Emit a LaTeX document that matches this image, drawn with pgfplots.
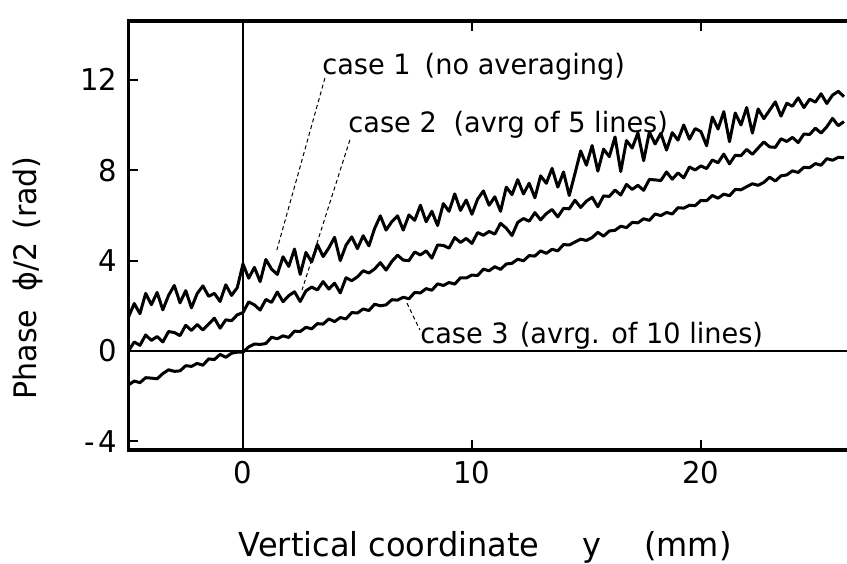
\documentclass[border=0pt]{standalone}
\usepackage{fontspec}
\setmainfont{DejaVu Sans}[FakeStretch=0.97]
\usepackage{pgfplots}
\pgfplotsset{compat=1.18}
\begin{document}
\begin{tikzpicture}
\begin{axis}[
  scale only axis, width=361.75bp, height=214.5bp,
  xmin=-5, xmax=26.6, ymin=-4.38, ymax=14.6,
  clip=false,
  xtick={0,10,20}, xticklabels={0,10,20},
  ytick={-4,0,4,8,12}, yticklabels={-\kern2bp 4,0,4,8,12},
  tick align=inside, xtick pos=both, ytick pos=left,
  major tick length=5bp,
  tick style={line width=1bp, black},
  axis line style={line width=1.7bp},
  /pgf/number format/assume math mode=true,
  ticklabel style={font=\fontsize{15bp}{18bp}\selectfont},
  yticklabel style={xshift=-2bp},
  xticklabel style={yshift=-2bp},
  xlabel={Vertical coordinate\hspace{1.3em}y\hspace{1.3em}(mm)},
  ylabel={Phase\hspace{0.6em}ϕ/2\hspace{0.4em}(rad)},
  xlabel style={font=\fontsize{16.5bp}{19bp}\selectfont, at={(axis description cs:0.493,-0.228)}, anchor=center},
  ylabel style={font=\fontsize{15.5bp}{19bp}\selectfont, at={(axis description cs:-0.139,0.401)}, anchor=center, rotate=0},
]
\coordinate (SW) at (rel axis cs:0,0);
% zero lines
\draw[line width=1.1bp] (axis cs:0,-4.38) -- (axis cs:0,14.6);
\draw[line width=1.1bp] (axis cs:-5,0) -- (axis cs:26.6,0);
% right-side ticks
\draw[line width=1bp] (axis cs:26.6,12) -- ++(-5bp,0);
\draw[line width=1bp] (axis cs:26.6,-4) -- ++(-5bp,0);

% case 1
\addplot[black, line width=1.5bp, line join=round, mark=none] coordinates {
(-5,1.50)(-4.75,2.10)(-4.5,1.65)(-4.25,2.55)(-4,2.05)(-3.75,2.59)(-3.5,1.82)(-3.25,2.46)(-3,2.90)(-2.75,2.13)
(-2.5,2.67)(-2.25,1.91)(-2,2.54)(-1.75,2.88)(-1.5,2.42)(-1.25,2.55)(-1,2.19)(-0.75,2.93)(-0.5,2.46)(-0.25,2.80)
(0,3.85)(0.25,3.22)(0.5,3.70)(0.75,3.07)(1,4.05)(1.25,3.62)(1.5,3.39)(1.75,4.17)(2,3.74)(2.25,4.51)
(2.5,3.39)(2.75,4.36)(3,3.94)(3.25,4.71)(3.5,4.18)(3.75,4.56)(4,5.03)(4.25,4.00)(4.5,4.68)(4.75,5.05)
(5,4.53)(5.25,5.10)(5.5,4.65)(5.75,5.42)(6,5.98)(6.25,5.35)(6.5,5.72)(6.75,5.98)(7,5.35)(7.25,6.02)
(7.5,5.78)(7.75,6.45)(8,5.72)(8.25,6.18)(8.5,5.55)(8.75,6.52)(9,6.18)(9.25,6.95)(9.5,6.22)(9.75,6.68)
(10,6.05)(10.25,6.72)(10.5,7.08)(10.75,6.45)(11,6.82)(11.25,6.18)(11.5,7.25)(11.75,6.92)(12,7.58)(12.25,6.95)
(12.5,7.42)(12.75,6.78)(13,7.75)(13.25,7.42)(13.5,8.08)(13.75,7.25)(14,7.92)(14.25,6.88)(14.5,7.85)(14.75,8.85)
(15,8.22)(15.25,9.09)(15.5,7.96)(15.75,8.93)(16,8.60)(16.25,9.47)(16.5,7.94)(16.75,9.31)(17,8.98)(17.25,9.65)
(17.5,8.42)(17.75,9.69)(18,9.16)(18.25,9.63)(18.5,8.89)(18.75,9.66)(19,9.33)(19.25,10.00)(19.5,9.37)(19.75,9.84)
(20,9.71)(20.25,9.08)(20.5,10.35)(20.75,9.82)(21,10.59)(21.25,9.26)(21.5,10.53)(21.75,10.00)(22,10.77)(22.25,9.64)
(22.5,10.71)(22.75,10.28)(23,10.65)(23.25,11.02)(23.5,10.39)(23.75,10.96)(24,10.83)(24.25,11.20)(24.5,10.77)(24.75,11.14)
(25,11.01)(25.25,11.38)(25.5,10.95)(25.75,11.32)(26,11.49)(26.25,11.25)
};
% case 2
\addplot[black, line width=1.5bp, line join=round, mark=none] coordinates {
(-5,0.00)(-4.75,0.40)(-4.5,0.25)(-4.25,0.71)(-4,0.47)(-3.75,0.64)(-3.5,0.40)(-3.25,0.86)(-3,0.82)(-2.75,0.68)
(-2.5,1.14)(-2.25,0.91)(-2,1.17)(-1.75,0.93)(-1.5,1.19)(-1.25,1.45)(-1,1.01)(-0.75,1.38)(-0.5,1.34)(-0.25,1.60)
(0,1.70)(0.25,2.17)(0.5,2.04)(0.75,1.81)(1,2.28)(1.25,2.15)(1.5,2.61)(1.75,2.18)(2,2.45)(2.25,2.62)
(2.5,2.19)(2.75,2.66)(3,2.83)(3.25,2.70)(3.5,3.07)(3.75,2.74)(4,3.00)(4.25,2.57)(4.5,3.24)(4.75,3.11)
(5,3.28)(5.25,3.55)(5.5,3.45)(5.75,3.63)(6,3.91)(6.25,3.58)(6.5,3.96)(6.75,4.24)(7,4.02)(7.25,4.00)
(7.5,4.38)(7.75,4.25)(8,4.43)(8.25,4.11)(8.5,4.69)(8.75,4.67)(9,4.55)(9.25,5.02)(9.5,4.80)(9.75,4.98)
(10,4.76)(10.25,5.24)(10.5,5.12)(10.75,5.29)(11,5.17)(11.25,5.65)(11.5,5.43)(11.75,5.11)(12,5.69)(12.25,5.86)
(12.5,5.74)(12.75,6.12)(13,5.80)(13.25,6.08)(13.5,6.26)(13.75,5.93)(14,6.31)(14.25,6.29)(14.5,6.67)(14.75,6.35)
(15,6.63)(15.25,6.80)(15.5,6.38)(15.75,6.86)(16,6.84)(16.25,7.12)(16.5,6.90)(16.75,7.37)(17,7.15)(17.25,7.33)
(17.5,7.11)(17.75,7.59)(18,7.57)(18.25,7.54)(18.5,7.92)(18.75,7.60)(19,7.88)(19.25,7.66)(19.5,8.14)(19.75,8.01)
(20,8.19)(20.25,8.07)(20.5,8.45)(20.75,8.33)(21,8.71)(21.25,8.28)(21.5,8.66)(21.75,8.64)(22,8.92)(22.25,8.70)
(22.5,8.98)(22.75,9.25)(23,9.03)(23.25,9.01)(23.5,9.39)(23.75,9.27)(24,9.45)(24.25,9.22)(24.5,9.60)(24.75,9.58)
(25,9.86)(25.25,9.64)(25.5,9.92)(25.75,10.29)(26,9.97)(26.25,10.15)
};
% case 3
\addplot[black, line width=1.5bp, line join=round, mark=none] coordinates {
(-5,-1.50)(-4.75,-1.33)(-4.5,-1.40)(-4.25,-1.18)(-4,-1.20)(-3.75,-1.23)(-3.5,-1.00)(-3.25,-0.83)(-3,-0.90)(-2.75,-0.88)
(-2.5,-0.65)(-2.25,-0.68)(-2,-0.55)(-1.75,-0.63)(-1.5,-0.35)(-1.25,-0.38)(-1,-0.15)(-0.75,-0.28)(-0.5,-0.10)(-0.25,-0.05)
(0,-0.05)(0.25,0.18)(0.5,0.31)(0.75,0.29)(1,0.33)(1.25,0.61)(1.5,0.54)(1.75,0.67)(2,0.60)(2.25,0.88)
(2.5,0.86)(2.75,1.05)(3,0.98)(3.25,1.21)(3.5,1.19)(3.75,1.42)(4,1.30)(4.25,1.48)(4.5,1.42)(4.75,1.70)
(5,1.68)(5.25,1.86)(5.5,1.79)(5.75,2.07)(6,2.00)(6.25,2.04)(6.5,2.27)(6.75,2.25)(7,2.38)(7.25,2.31)
(7.5,2.59)(7.75,2.57)(8,2.76)(8.25,2.69)(8.5,2.97)(8.75,2.90)(9,3.03)(9.25,2.96)(9.5,3.24)(9.75,3.23)
(10,3.36)(10.25,3.34)(10.5,3.62)(10.75,3.55)(11,3.73)(11.25,3.61)(11.5,3.85)(11.75,3.88)(12,4.06)(12.25,3.99)
(12.5,4.22)(12.75,4.20)(13,4.43)(13.25,4.32)(13.5,4.50)(13.75,4.43)(14,4.71)(14.25,4.69)(14.5,4.82)(14.75,4.95)
(15,4.89)(15.25,5.02)(15.5,5.25)(15.75,5.08)(16,5.31)(16.25,5.34)(16.5,5.52)(16.75,5.46)(17,5.69)(17.25,5.67)
(17.5,5.85)(17.75,5.78)(18,6.06)(18.25,5.99)(18.5,6.13)(18.75,6.06)(19,6.34)(19.25,6.32)(19.5,6.45)(19.75,6.43)
(20,6.66)(20.25,6.65)(20.5,6.88)(20.75,6.76)(21,6.94)(21.25,6.87)(21.5,7.15)(21.75,7.13)(22,7.27)(22.25,7.40)
(22.5,7.33)(22.75,7.46)(23,7.69)(23.25,7.52)(23.5,7.75)(23.75,7.79)(24,7.97)(24.25,7.90)(24.5,8.13)(24.75,8.11)
(25,8.29)(25.25,8.22)(25.5,8.51)(25.75,8.44)(26,8.57)(26.25,8.55)
};

% leader lines
\draw[line width=0.5bp, dash pattern=on 2bp off 1.5bp] (axis cs:3.58,12.08) -- (axis cs:1.48,4.47);
\draw[line width=0.5bp, dash pattern=on 2bp off 1.5bp] (axis cs:4.67,9.34) -- (axis cs:2.58,2.70);
\draw[line width=0.5bp, dash pattern=on 2bp off 1.5bp] (axis cs:7.16,2.12) -- (axis cs:7.73,0.93);

% annotations
\node[anchor=west, inner sep=0pt, font=\fontsize{14bp}{17bp}\selectfont] at (axis cs:3.45,12.57) {case 1\hspace{0.5em}(no averaging)};
\node[anchor=west, inner sep=0pt, font=\fontsize{14bp}{17bp}\selectfont] at (axis cs:4.59,10.0) {case 2\hspace{0.6em}(avrg of 5 lines)};
\node[anchor=base west, inner sep=0pt, font=\fontsize{14bp}{17bp}\selectfont] at (axis cs:7.73,0.35) {case 3\hspace{0.4em}(avrg. of 10 lines)};
\end{axis}
\pgfresetboundingbox
\path[use as bounding box] (SW) ++(-64.25bp,-57bp) rectangle ++(423.5bp,282bp);
\end{tikzpicture}
\end{document}
